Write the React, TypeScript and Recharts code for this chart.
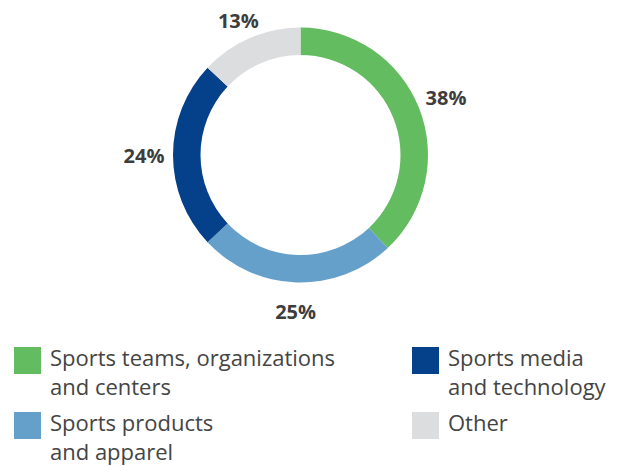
import React from "react";
import { PieChart, Pie, Cell } from "recharts";

const categories = [
  "Sports teams, organizations\nand centers",
  "Sports products\nand apparel",
  "Sports media\nand technology",
  "Other",
];
const shares = [38, 25, 24, 13];
const colors = ["#63BC5F", "#65A0CB", "#05418A", "#DCDDDF"];
const data = categories.map((name, i) => ({ name, value: shares[i] }));

// legend order as in the reference: left column then right column
const legendOrder = [0, 2, 1, 3];

const FONT = "'Open Sans', Lato, sans-serif";
const RAD = Math.PI / 180;
const LABEL_SIZE = 20;

const renderLabel = (props: any) => {
  const { cx, cy, midAngle, outerRadius, value } = props;
  const r = outerRadius + 29;
  const x = cx + r * Math.cos(-midAngle * RAD);
  // keep labels fully inside the drawing area
  const y = Math.max(cy + r * Math.sin(-midAngle * RAD), LABEL_SIZE);
  return (
    <text
      x={x}
      y={y}
      textAnchor="middle"
      dominantBaseline="central"
      fill="#3d3d3d"
      fontFamily={FONT}
      fontWeight={700}
      fontSize={LABEL_SIZE}
    >
      {value}%
    </text>
  );
};

export default function App() {
  return (
    <div
      style={{
        position: "absolute",
        left: 0,
        top: 0,
        width: 628,
        height: 466,
        background: "#fff",
        fontFamily: FONT,
      }}
    >
      <PieChart width={628} height={340} margin={{ top: 0, right: 0, bottom: 0, left: 0 }}>
        <Pie
          data={data}
          dataKey="value"
          nameKey="name"
          cx={300.5}
          cy={155}
          innerRadius={100}
          outerRadius={127.5}
          startAngle={90}
          endAngle={-270}
          stroke="none"
          label={renderLabel}
          labelLine={false}
          isAnimationActive={false}
        >
          {data.map((d, i) => (
            <Cell key={d.name} fill={colors[i]} />
          ))}
        </Pie>
      </PieChart>
      {legendOrder.map((idx, k) => {
        const col = k % 2 === 0 ? 0 : 1;
        const row = Math.floor(k / 2);
        const left = col === 0 ? 14 : 412;
        const top = row === 0 ? 347 : 412;
        return (
          <div key={idx}>
            <div
              style={{
                position: "absolute",
                left,
                top,
                width: 27,
                height: 27,
                background: colors[idx],
              }}
            />
            <div
              style={{
                position: "absolute",
                left: left + 36,
                top: top - 4,
                fontSize: 22,
                lineHeight: "29px",
                color: "#444",
                whiteSpace: "pre-line",
              }}
            >
              {categories[idx]}
            </div>
          </div>
        );
      })}
    </div>
  );
}
